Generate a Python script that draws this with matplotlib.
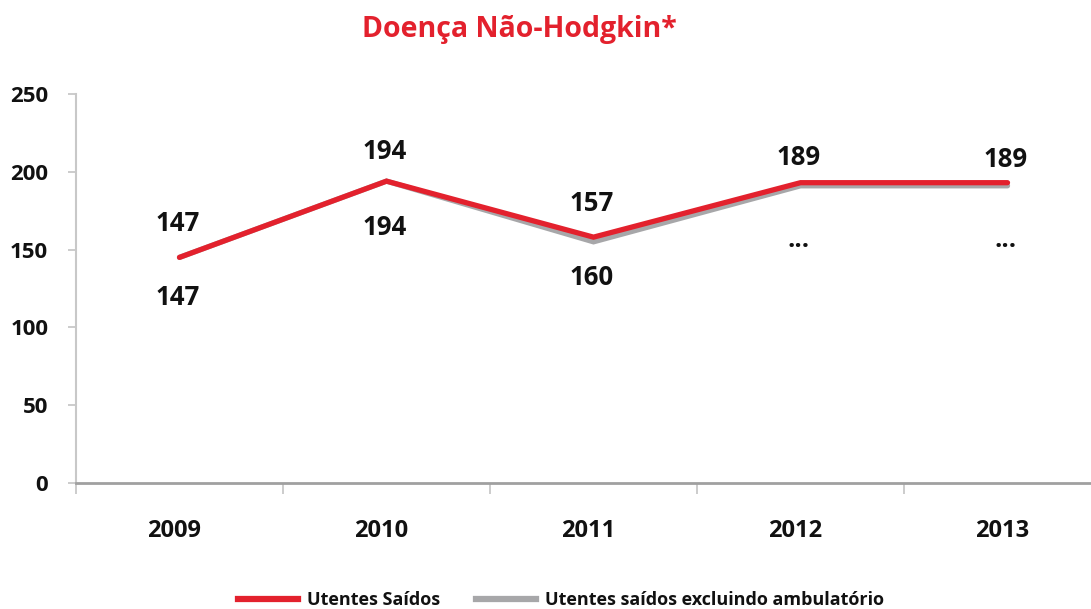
import matplotlib
matplotlib.use("Agg")
import matplotlib.pyplot as plt
from matplotlib.lines import Line2D
import matplotlib.transforms as mtransforms

plt.rcParams['font.family'] = ['Open Sans', 'DejaVu Sans']

years = ["2009", "2010", "2011", "2012", "2013"]
saidos = [145, 194, 158, 193, 193]
saidos_excl = [145, 194, 155, 191, 191]
labels_saidos = ["147", "194", "157", "189", "189"]
labels_excl = ["147", "194", "160", "...", "..."]
yticks = [0, 50, 100, 150, 200, 250]

RED = "#E3212D"
GRAY = "#A7A7A9"
W = 'bold'

fig = plt.figure(figsize=(10.91, 6.09), dpi=100)
ax = fig.add_axes([76/1091, 1 - 483/609, 1035/1091, (483-94)/609])

x = list(range(len(years)))
ax.plot(x, saidos_excl, color=GRAY, lw=3.8, solid_capstyle='round', solid_joinstyle='miter', zorder=2)
ax.plot(x, saidos, color=RED, lw=3.8, solid_capstyle='round', solid_joinstyle='miter', zorder=3)

up_off = [34, 30, 34, 25, 23]
down_off = [-40, -46, -36, -54, -54]
for i in x:
    ax.annotate(labels_saidos[i], (i, saidos[i]), xytext=(-2, up_off[i]), textcoords='offset pixels',
                ha='center', va='center', fontsize=18.5, fontweight=W, color='#111111')
    ax.annotate(labels_excl[i], (i, saidos_excl[i]), xytext=(-2, down_off[i]), textcoords='offset pixels',
                ha='center', va='center', fontsize=18.5, fontweight=W, color='#111111')

ax.set_xlim(-0.5, 4.5)
ax.set_ylim(0, 250)
ax.set_yticks(yticks)
ax.set_yticklabels([str(v) for v in yticks], fontsize=16, fontweight=W, color='#111111')
ax.set_xticks(x)
ax.set_xticklabels(years, fontsize=17, fontweight=W, color='#111111')
ax.set_xticks([i - 0.5 for i in range(len(years) + 1)], minor=True)
ax.tick_params(axis='x', which='major', length=0, pad=26)
ax.tick_params(axis='x', which='minor', length=8, width=1.3, color='#C8C8C8', direction='out')
ax.tick_params(axis='y', length=6, width=1.3, color='#C8C8C8', direction='out', pad=14)
shift = mtransforms.ScaledTranslation(-5/100, 0, fig.dpi_scale_trans)
for lbl in ax.get_xticklabels():
    lbl.set_transform(lbl.get_transform() + shift)

for s in ['top', 'right']:
    ax.spines[s].set_visible(False)
ax.spines['left'].set_color('#C8C8C8')
ax.spines['left'].set_linewidth(1.5)
ax.spines['bottom'].set_color('#A0A0A0')
ax.spines['bottom'].set_linewidth(2)

fig.text(519/1091, 1 - 30/609, "Doença Não-Hodgkin*", ha='center', va='center',
         fontsize=20.5, fontweight=W, color=RED)

handles = [Line2D([], [], color=RED, lw=4.5), Line2D([], [], color=GRAY, lw=4.5)]
leg = fig.legend(handles, ["Utentes Saídos", "Utentes saídos excluindo ambulatório"],
                 loc='center', bbox_to_anchor=(561/1091, 1 - 600/609), ncol=2, frameon=False,
                 prop={'size': 13, 'weight': W}, handlelength=3.3, handletextpad=0.5,
                 columnspacing=2.0)
for t in leg.get_texts():
    t.set_color('#111111')

fig.savefig("out.png", dpi=100)
